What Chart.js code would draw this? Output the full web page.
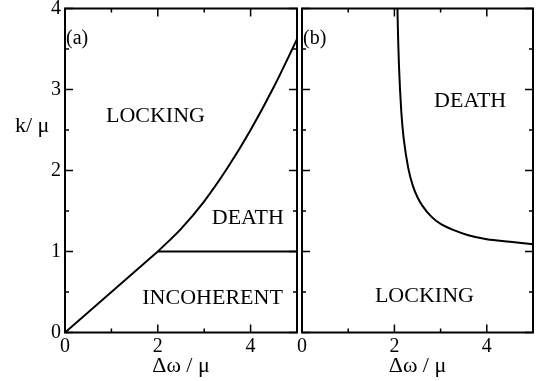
<!DOCTYPE html>
<html>
<head>
<meta charset="utf-8">
<script src="https://cdn.jsdelivr.net/npm/chart.js@4/dist/chart.umd.min.js"></script>
<style>
  html, body { margin: 0; padding: 0; background: #fff; }
  #wrap { position: relative; width: 538px; height: 381px; overflow: hidden; }
  canvas { position: absolute; top: 0; }
  #ca { left: 0; }
  #cb { left: 290px; }
</style>
</head>
<body>
<div id="wrap">
  <canvas id="ca" width="300" height="381"></canvas>
  <canvas id="cb" width="248" height="381"></canvas>
</div>
<script>
// ---- Data ----
// Panel (a): straight boundary from origin to (2,1)
const aRampX = [0, 2];
const aRampK = [0, 1];
// Panel (a): horizontal boundary k = 1
const aFlatX = [2, 5];
const aFlatK = [1, 1];
// Panel (a): curved boundary between LOCKING and DEATH
const aCurveX = [2, 2.5, 3, 3.5, 4, 4.5, 5];
const aCurveK = [1, 1.28, 1.62, 2.03, 2.5, 3.03, 3.62];
// Panel (b): boundary between DEATH and LOCKING
const bCurveX = [2.05, 2.07, 2.1, 2.15, 2.2, 2.3, 2.4, 2.5, 2.6, 2.8, 3.0, 3.3, 3.6, 4.0, 4.5, 5.0];
const bCurveK = [4.56, 3.88, 3.28, 2.72, 2.40, 2.03, 1.81, 1.67, 1.57, 1.43, 1.34, 1.26, 1.20, 1.15, 1.12, 1.09];

// Axis ticks
const xMajorTicks = [0, 2, 4];
const xMinorTicks = [1, 3];
const yMajorTicks = [0, 1, 2, 3, 4];
const yMinorTicks = [0.5, 1.5, 2.5, 3.5];
const xLabelledTicks = [0, 2, 4];

// Region labels [text, x, k(baseline)]
const aRegionNames = ['LOCKING', 'DEATH', 'INCOHERENT'];
const aRegionX = [1.95, 3.94, 3.18];
const aRegionK = [2.60, 1.34, 0.35];
const bRegionNames = ['DEATH', 'LOCKING'];
const bRegionX = [3.64, 2.65];
const bRegionK = [2.78, 0.38];

const FONT = '"Liberation Serif", "Times New Roman", serif';
Chart.defaults.font.family = FONT;
Chart.defaults.color = '#000';

function pts(xs, ys) { return xs.map((v, i) => ({ x: v, y: ys[i] })); }

function lineDs(xs, ys, smooth) {
  return {
    data: pts(xs, ys),
    showLine: true,
    borderColor: '#000',
    borderWidth: 2,
    pointRadius: 0,
    fill: false,
    tension: 0,
    cubicInterpolationMode: smooth ? 'monotone' : 'default'
  };
}

function framePlugin(panelLabel, names, xs, ks, drawYTitle) {
  return {
    id: 'frame_' + panelLabel,
    afterDatasetsDraw(chart) {
      const { ctx, chartArea: a, scales } = chart;
      const x = scales.x, y = scales.y;
      ctx.save();
      ctx.strokeStyle = '#000';
      ctx.lineWidth = 1.5;
      ctx.beginPath();
      const vt = (v, len) => {
        const px = x.getPixelForValue(v);
        ctx.moveTo(px, a.bottom); ctx.lineTo(px, a.bottom - len);
        ctx.moveTo(px, a.top); ctx.lineTo(px, a.top + len);
      };
      const ht = (v, len) => {
        const py = y.getPixelForValue(v);
        ctx.moveTo(a.left, py); ctx.lineTo(a.left + len, py);
        ctx.moveTo(a.right, py); ctx.lineTo(a.right - len, py);
      };
      xMajorTicks.forEach(v => vt(v, 8));
      xMinorTicks.forEach(v => vt(v, 4));
      yMajorTicks.forEach(v => ht(v, 8));
      yMinorTicks.forEach(v => ht(v, 4));
      ctx.stroke();
      ctx.lineWidth = 2;
      ctx.strokeRect(a.left, a.top, a.right - a.left, a.bottom - a.top);

      ctx.fillStyle = '#000';
      ctx.textBaseline = 'alphabetic';
      ctx.textAlign = 'center';
      ctx.font = '22px ' + FONT;
      names.forEach((t, i) => {
        ctx.fillText(t, x.getPixelForValue(xs[i]), y.getPixelForValue(ks[i]));
      });
      ctx.textAlign = 'left';
      ctx.font = '20px ' + FONT;
      ctx.fillText(panelLabel, a.left + 1, a.top + 35);
      if (drawYTitle) {
        ctx.font = '22px ' + FONT;
        ctx.fillText('k/ \u03bc', 15, 132);
      }
      ctx.restore();
    }
  };
}

function xScale() {
  return {
    type: 'linear', min: 0, max: 5,
    grid: { display: false, drawTicks: false, tickLength: 0 }, border: { display: false },
    ticks: {
      stepSize: 1, autoSkip: false, maxRotation: 0, padding: 2,
      font: { size: 20 },
      callback: v => xLabelledTicks.includes(v) ? String(v) : ''
    },
    title: { display: true, text: '\u0394\u03c9 / \u03bc', font: { size: 22 }, padding: { top: 0, bottom: 2 } },
    afterFit: s => { s.height = 48.5; s.paddingLeft = 0; s.paddingRight = 0; }
  };
}

new Chart(document.getElementById('ca'), {
  type: 'scatter',
  data: { datasets: [
    lineDs(aRampX, aRampK, false),
    lineDs(aFlatX, aFlatK, false),
    lineDs(aCurveX, aCurveK, true)
  ] },
  options: {
    responsive: false, animation: false, devicePixelRatio: 1,
    layout: { padding: { left: 0, right: 3, top: 8.5, bottom: 0 } },
    plugins: { legend: { display: false }, tooltip: { enabled: false } },
    scales: {
      x: xScale(),
      y: {
        type: 'linear', min: 0, max: 4,
        grid: { display: false, drawTicks: false, tickLength: 0 }, border: { display: false },
        ticks: { stepSize: 1, padding: 4, font: { size: 20 } },
        afterFit: s => { s.width = 65; s.paddingTop = 0; s.paddingBottom = 0; }
      }
    }
  },
  plugins: [framePlugin('(a)', aRegionNames, aRegionX, aRegionK, true)]
});

new Chart(document.getElementById('cb'), {
  type: 'scatter',
  data: { datasets: [ lineDs(bCurveX, bCurveK, true) ] },
  options: {
    responsive: false, animation: false, devicePixelRatio: 1,
    layout: { padding: { left: 0, right: 5, top: 8.5, bottom: 0 } },
    plugins: { legend: { display: false }, tooltip: { enabled: false } },
    scales: {
      x: xScale(),
      y: {
        type: 'linear', min: 0, max: 4,
        grid: { display: false, drawTicks: false, tickLength: 0 }, border: { display: false },
        ticks: { display: false, stepSize: 1 },
        afterFit: s => { s.width = 12; s.paddingTop = 0; s.paddingBottom = 0; }
      }
    }
  },
  plugins: [framePlugin('(b)', bRegionNames, bRegionX, bRegionK, false)]
});
</script>
</body>
</html>
